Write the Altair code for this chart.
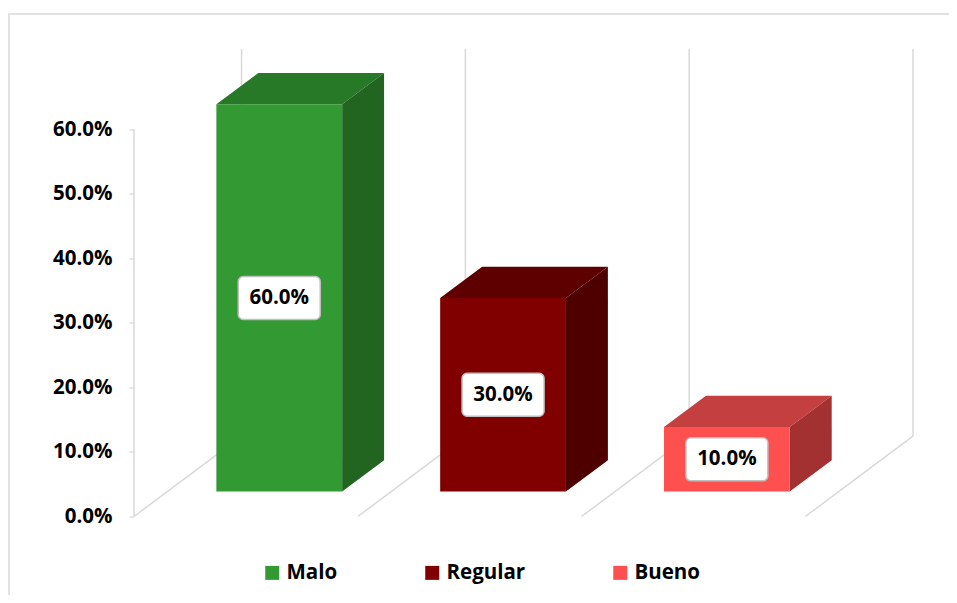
import altair as alt
import pandas as pd

# ---- data ----
categories = ["Malo", "Regular", "Bueno"]
values = [0.60, 0.30, 0.10]
front_colors = ["#339933", "#800000", "#FF5050"]
top_colors = ["#277827", "#5E0000", "#C43F3F"]
side_colors = ["#216521", "#4E0000", "#A33131"]
tick_values = [0.0, 0.1, 0.2, 0.3, 0.4, 0.5, 0.6]

# ---- 3D geometry (styling constants) ----
DX = 0.4806      # depth offset in category units
DY = 0.1244      # depth offset in value units
W = 0.562        # bar width (category units)
G = (1 - W) / 2
F_FRONT = 0.31
F_BACK = 0.70
YMAX = max(tick_values)
n = len(categories)

FONT = "Open Sans"
FS = 20.5

af, ab = F_FRONT * DY, F_BACK * DY

front_rows, face_rows, label_rows = [], [], []
for i, (c, v) in enumerate(zip(categories, values)):
    x0 = i + G + F_FRONT * DX
    x1 = x0 + W
    xb0 = i + G + F_BACK * DX
    xb1 = xb0 + W
    front_rows.append(dict(cat=c, x=x0, x2=x1, y=af, y2=v + af))
    # top face
    for (px, py, py2) in [(x0, v + af, v + af), (xb0, v + af, v + ab),
                          (x1, v + af, v + ab), (xb1, v + ab, v + ab)]:
        face_rows.append(dict(face=c + "_top", col=top_colors[i], x=px, y=py, y2=py2))
    # side face
    for (px, py, py2) in [(x1, af, v + af), (xb1, ab, v + ab)]:
        face_rows.append(dict(face=c + "_side", col=side_colors[i], x=px, y=py, y2=py2))
    label_rows.append(dict(cat=c, cx=(x0 + x1) / 2, cy=af + v / 2, val=v))

front_df = pd.DataFrame(front_rows)
face_df = pd.DataFrame(face_rows)
label_df = pd.DataFrame(label_rows)
back_df = pd.DataFrame({"bx": [i + DX for i in range(n + 1)]})
back_df["by"] = DY
back_df["by2"] = DY + YMAX
floor_df = pd.DataFrame({"fx0": [float(i) for i in range(n + 1)]})
floor_df["fx1"] = floor_df["fx0"] + DX
floor_df["fy0"] = 0.0
floor_df["fy1"] = DY
axis_df = pd.DataFrame({"ax": [0.0], "ay": [0.0], "ay2": [YMAX]})

xs = alt.Scale(domain=[0, n + DX], nice=False, zero=False)
ys = alt.Scale(domain=[0, 0.725], nice=False, zero=False)
yaxis = alt.Axis(values=tick_values, format=".1%", domain=False, grid=False,
                 tickColor="#d9d9d9", tickSize=5, tickWidth=1.3,
                 labelFont=FONT, labelFontSize=FS, labelFontWeight="bold",
                 labelColor="black", labelPadding=17, title=None)

def X(f):
    return alt.X(f, scale=xs, axis=None)

def Y(f):
    return alt.Y(f, scale=ys, axis=yaxis)

GRID = "#d9d9d9"

border = alt.Chart(pd.DataFrame({"a": [0]})).mark_rect(
    fill="transparent", stroke=GRID, strokeWidth=1.5
).encode(x=alt.value(-125), x2=alt.value(830), y=alt.value(-34.5), y2=alt.value(600))

back = alt.Chart(back_df).mark_rule(color=GRID, strokeWidth=1.5).encode(
    x=X("bx:Q"), y=Y("by:Q"), y2="by2:Q")

floor = alt.Chart(floor_df).mark_rule(color=GRID, strokeWidth=1.5).encode(
    x=X("fx0:Q"), x2="fx1:Q", y=Y("fy0:Q"), y2="fy1:Q")

axline = alt.Chart(axis_df).mark_rule(color=GRID, strokeWidth=1.5).encode(
    x=X("ax:Q"), y=Y("ay:Q"), y2="ay2:Q")

faces = alt.Chart(face_df).mark_area(interpolate="linear").encode(
    x=X("x:Q"), y=Y("y:Q"), y2="y2:Q",
    color=alt.Color("col:N", scale=None),
    detail="face:N")

front = alt.Chart(front_df).mark_rect().encode(
    x=X("x:Q"), x2="x2:Q", y=Y("y:Q"), y2="y2:Q",
    color=alt.Color("cat:N",
                    scale=alt.Scale(domain=categories, range=front_colors),
                    legend=alt.Legend(title=None, orient="none", legendX=128, legendY=514,
                                      direction="horizontal", symbolType="square",
                                      symbolSize=196, symbolStrokeWidth=0,
                                      labelFont=FONT, labelFontSize=FS,
                                      labelFontWeight="bold", labelColor="black",
                                      columnPadding=84, labelOffset=4, padding=0)))

boxes = alt.Chart(label_df).mark_rect(
    fill="white", stroke="#bfbfbf", strokeWidth=1.5, cornerRadius=5,
    xOffset=-41, x2Offset=41, yOffset=-21.5, y2Offset=21.5
).encode(x=X("cx:Q"), x2="cx:Q", y=Y("cy:Q"), y2="cy:Q")

texts = alt.Chart(label_df).mark_text(
    font=FONT, fontSize=FS, fontWeight="bold", color="black",
    align="center", baseline="middle"
).encode(x=X("cx:Q"), y=Y("cy:Q"), text=alt.Text("val:Q", format=".1%"))

chart = alt.layer(border, back, floor, axline, faces, front, boxes, texts).properties(
    width=779, height=468,
    background="white",
    autosize=alt.AutoSizeParams(type="none"),
    padding={"left": 126, "top": 40.5, "right": 36, "bottom": 78.5},
).configure_view(strokeWidth=0, stroke=None)

chart.save("out.html", embed_options={"renderer": "svg", "actions": False})
